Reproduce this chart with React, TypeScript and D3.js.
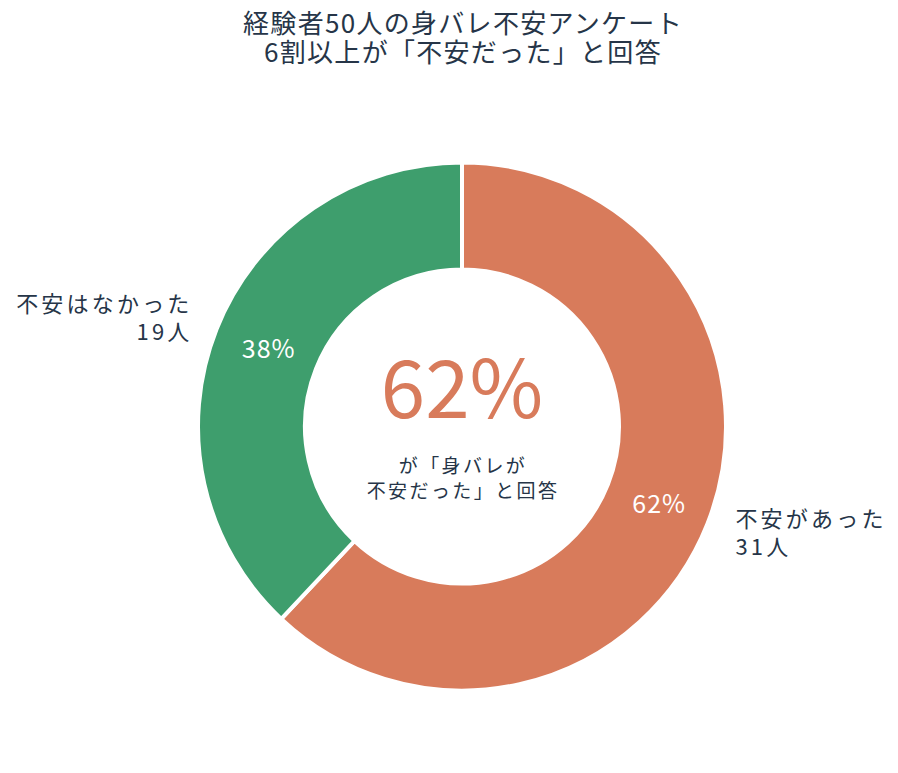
import React, { useEffect, useRef } from 'react';
import * as d3 from 'd3';

// 回答データ
const categories = ['不安があった', '不安はなかった'];
const counts = [31, 19];
const colors = ['#D87B5B', '#3E9E6D'];
const titleLines = ['経験者50人の身バレ不安アンケート', '6割以上が「不安だった」と回答'];
const centerValue = '62%';
const centerLines = ['が「身バレが', '不安だった」と回答'];

const FONT = "'Noto Sans CJK JP', sans-serif";
const TEXT_COLOR = '#263548';

const App = () => {
    const svgRef = useRef(null);

    useEffect(() => {
        const svg = d3.select(svgRef.current);
        svg.selectAll('*').remove();

        const cx = 462;
        const cy = 426.5;
        const outerR = 264;
        const innerR = 157;
        const total = d3.sum(counts);

        // タイトル
        svg.append('g')
            .selectAll('text')
            .data(titleLines)
            .join('text')
            .attr('x', cx + 1)
            .attr('y', (d, i) => 33 + i * 29)
            .attr('text-anchor', 'middle')
            .attr('font-family', FONT)
            .attr('font-size', 26)
            .attr('letter-spacing', 1.3)
            .attr('fill', TEXT_COLOR)
            .text(d => d);

        const pie = d3.pie<number>().sort(null).value(d => d);
        const arcs = pie(counts);
        const arc = d3.arc<d3.PieArcDatum<number>>().innerRadius(innerR).outerRadius(outerR);
        const labelArc = d3.arc<d3.PieArcDatum<number>>().innerRadius(210).outerRadius(210);
        const outerArc = d3.arc<d3.PieArcDatum<number>>().innerRadius(293).outerRadius(293);

        const g = svg.append('g').attr('transform', `translate(${cx},${cy})`);

        g.selectAll('path')
            .data(arcs)
            .join('path')
            .attr('d', arc)
            .attr('fill', (d, i) => colors[i])
            .attr('stroke', '#fff')
            .attr('stroke-width', 4)
            .attr('stroke-linejoin', 'miter');

        // スライス内のパーセント
        g.selectAll('text.pct')
            .data(arcs)
            .join('text')
            .attr('class', 'pct')
            .attr('transform', d => {
                const [x, y] = labelArc.centroid(d);
                return `translate(${x + 2},${y})`;
            })
            .attr('text-anchor', 'middle')
            .attr('dy', '0.36em')
            .attr('font-family', FONT)
            .attr('font-size', 25)
            .attr('letter-spacing', 1)
            .attr('fill', '#fff')
            .text(d => `${Math.round((d.data / total) * 100)}%`);

        // 外側ラベル
        arcs.forEach((d, i) => {
            const [x, y] = outerArc.centroid(d);
            const mid = (d.startAngle + d.endAngle) / 2;
            const right = mid < Math.PI;
            const lx = right ? x + 1 : x + 3;
            const t = g.append('text')
                .attr('text-anchor', right ? 'start' : 'end')
                .attr('font-family', FONT)
                .attr('font-size', 22)
                .attr('letter-spacing', 3.2)
                .attr('fill', TEXT_COLOR);
            t.append('tspan')
                .attr('x', lx)
                .attr('y', y - 7)
                .text(categories[i]);
            t.append('tspan')
                .attr('x', lx)
                .attr('y', y + 21)
                .text(`${counts[i]}人`);
        });

        // 中央の表示
        g.append('text')
            .attr('x', 0)
            .attr('y', -9)
            .attr('text-anchor', 'middle')
            .attr('font-family', FONT)
            .attr('font-size', 80)
            .attr('fill', colors[0])
            .text(centerValue);

        g.append('g')
            .selectAll('text')
            .data(centerLines)
            .join('text')
            .attr('x', 1)
            .attr('y', (d, i) => 46 + i * 25)
            .attr('text-anchor', 'middle')
            .attr('font-family', FONT)
            .attr('font-size', 19)
            .attr('letter-spacing', 2.4)
            .attr('fill', TEXT_COLOR)
            .text(d => d);
    }, []);

    return (
        <svg ref={svgRef} width={898} height={773} style={{ display: 'block', position: 'absolute', left: 0, top: 0 }} />
    );
};

export default App;
